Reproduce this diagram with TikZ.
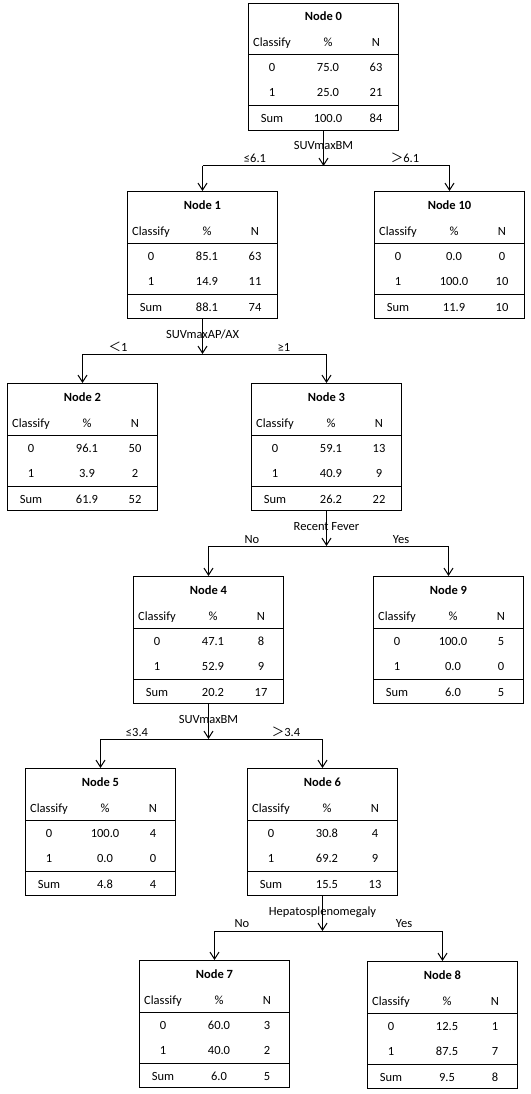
\documentclass[tikz,border=0pt]{standalone}
\usepackage{fontspec}
\setmainfont{Carlito}
\newfontfamily\cjk{Noto Sans CJK SC}
\usetikzlibrary{arrows.meta,calc}
\tikzset{
  box/.style={draw, line width=1pt, minimum width=150pt, minimum height=127pt, anchor=north west, inner sep=0pt},
  cell/.style={inner sep=0pt, anchor=base, font=\fontsize{12.5}{15}\selectfont},
  ttl/.style={inner sep=0pt, anchor=base, font=\fontsize{12.5}{15}\selectfont\bfseries},
  rule/.style={line width=1pt},
  arr/.style={line width=1pt, -{Straight Barb[length=7pt,width=9pt]}},
  brl/.style={inner sep=0pt, anchor=base, font=\fontsize{12.5}{15}\selectfont},
}
\newcommand{\treenode}[9]{%
  \node[box] (n#1) at (#2,#3) {};
  \draw[rule] ($(n#1.north west)+(0,52)$) -- ($(n#1.north east)+(0,52)$);
  \draw[rule] ($(n#1.north west)+(0,103)$) -- ($(n#1.north east)+(0,103)$);
  \node[ttl] (n#1t) at ($(n#1.north)+(0,18)$) {Node #1};
  \node[cell] (n#1ha) at ($(n#1.north west)+(24,44)$) {Classify};
  \node[cell] (n#1hb) at ($(n#1.north west)+(80,44)$) {\%};
  \node[cell] (n#1hc) at ($(n#1.north west)+(128,44)$) {N};
  \node[cell] (n#1aa) at ($(n#1.north west)+(24,69)$) {0};
  \node[cell] (n#1ab) at ($(n#1.north west)+(80,69)$) {#4};
  \node[cell] (n#1ac) at ($(n#1.north west)+(128,69)$) {#5};
  \node[cell] (n#1ba) at ($(n#1.north west)+(24,94)$) {1};
  \node[cell] (n#1bb) at ($(n#1.north west)+(80,94)$) {#6};
  \node[cell] (n#1bc) at ($(n#1.north west)+(128,94)$) {#7};
  \node[cell] (n#1ca) at ($(n#1.north west)+(24,120)$) {Sum};
  \node[cell] (n#1cb) at ($(n#1.north west)+(80,120)$) {#8};
  \node[cell] (n#1cc) at ($(n#1.north west)+(128,120)$) {#9};
}
\newcommand{\splitlines}[4]{% parent, left child, right child, variable
  \path (n#1.south) ++(0,35) coordinate (j#1);
  \node[brl] (v#1) at ($(n#1.south)+(0,19)$) {#4};
  \draw[arr] (n#1.south) -- (j#1);
  \draw[rule] (j#1 -| n#2.north) -- (j#1 -| n#3.north);
  \draw[arr] (j#1 -| n#2.north) -- (n#2.north);
  \draw[arr] (j#1 -| n#3.north) -- (n#3.north);
}
\begin{document}
\begin{tikzpicture}[x=1pt,y=-1pt]
\useasboundingbox (0,0) rectangle (530,1094);
\treenode{0}{248}{3}{75.0}{63}{25.0}{21}{100.0}{84}
\treenode{1}{127}{191}{85.1}{63}{14.9}{11}{88.1}{74}
\treenode{10}{374}{191}{0.0}{0}{100.0}{10}{11.9}{10}
\treenode{2}{7}{383}{96.1}{50}{3.9}{2}{61.9}{52}
\treenode{3}{251}{383}{59.1}{13}{40.9}{9}{26.2}{22}
\treenode{4}{133}{576}{47.1}{8}{52.9}{9}{20.2}{17}
\treenode{9}{373}{576}{100.0}{5}{0.0}{0}{6.0}{5}
\treenode{5}{25}{768}{100.0}{4}{0.0}{0}{4.8}{4}
\treenode{6}{247}{768}{30.8}{4}{69.2}{9}{15.5}{13}
\treenode{7}{139}{960}{60.0}{3}{40.0}{2}{6.0}{5}
\treenode{8}{367}{961}{12.5}{1}{87.5}{7}{9.5}{8}

\splitlines{0}{1}{10}{SUVmaxBM}
\node[brl] (b0l) at (255,163) {≤6.1};
\node[brl] (b0r) at (405,163) {{\cjk ＞}6.1};

\splitlines{1}{2}{3}{SUVmaxAP/AX}
\node[brl] (b1l) at (118,351) {{\cjk ＜}1};
\node[brl] (b1r) at (284,351) {≥1};

\splitlines{3}{4}{9}{Recent Fever}
\node[brl] (b3l) at (252,543) {No};
\node[brl] (b3r) at (401,543) {Yes};

\splitlines{4}{5}{6}{SUVmaxBM}
\node[brl] (b4l) at (137,736) {≤3.4};
\node[brl] (b4r) at (286,736) {{\cjk ＞}3.4};

\splitlines{6}{7}{8}{Hepatosplenomegaly}
\node[brl] (b6l) at (242,927) {No};
\node[brl] (b6r) at (404,927) {Yes};
\end{tikzpicture}
\end{document}
